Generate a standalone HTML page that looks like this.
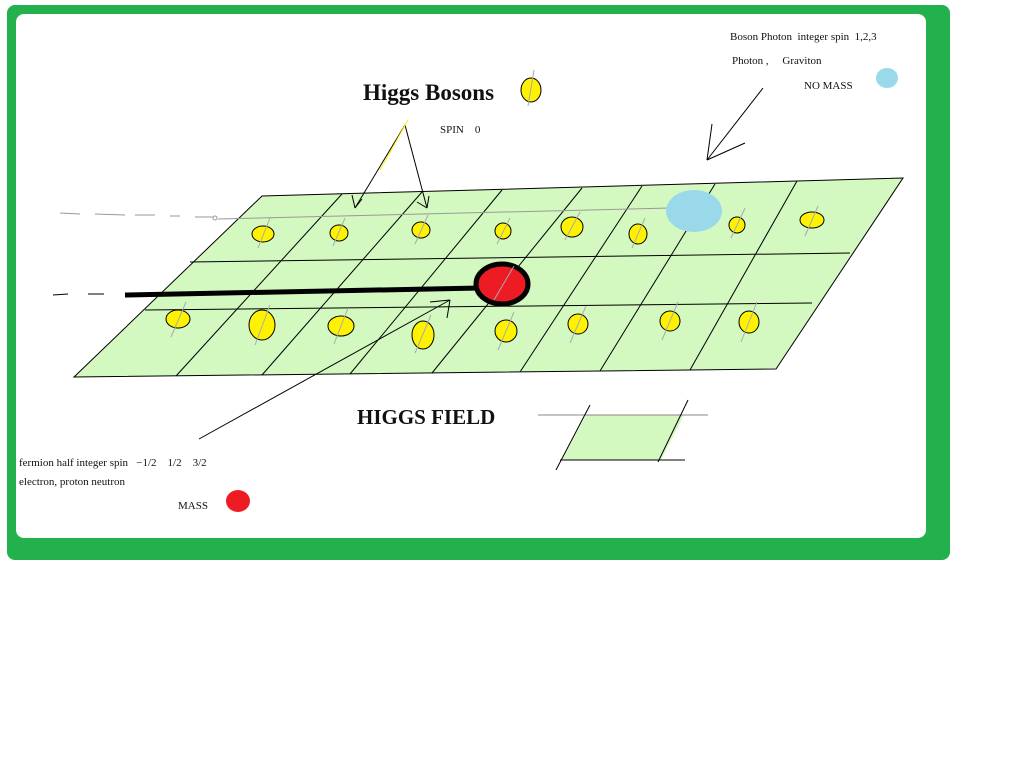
<!DOCTYPE html>
<html><head><meta charset="utf-8"><style>
html,body{margin:0;padding:0;background:#fff;width:1024px;height:768px;overflow:hidden}
svg{display:block}
text{font-family:"Liberation Serif",serif;fill:#111;white-space:pre}
</style></head><body>
<svg width="1024" height="768" viewBox="0 0 1024 768" xmlns="http://www.w3.org/2000/svg" xml:space="preserve">
<rect x="7" y="5" width="943" height="555" rx="8" fill="#22b14c"/>
<rect x="16" y="14" width="910" height="524" rx="8" fill="#fff"/>
<polygon points="262,196 903,178 776,369 74,377" fill="#d3f8c0" stroke="#000" stroke-width="1"/>
<g stroke="#000" stroke-width="1">
<line x1="190" y1="262" x2="850" y2="253"/>
<line x1="145" y1="310" x2="812" y2="303"/>
<line x1="342" y1="194" x2="176" y2="376"/>
<line x1="422" y1="192" x2="262" y2="375"/>
<line x1="502" y1="190" x2="350" y2="374"/>
<line x1="582" y1="188" x2="432" y2="373"/>
<line x1="642" y1="186" x2="520" y2="372"/>
<line x1="715" y1="184" x2="600" y2="371"/>
<line x1="797" y1="181" x2="690" y2="370"/>
</g>
<g stroke="#999" stroke-width="1">
<line x1="60" y1="213" x2="80" y2="214"/><line x1="95" y1="214" x2="125" y2="215"/><line x1="135" y1="215" x2="155" y2="215"/><line x1="170" y1="216" x2="180" y2="216"/><line x1="195" y1="217" x2="213" y2="217"/>
<line x1="218" y1="219" x2="670" y2="208"/>
</g>
<circle cx="215" cy="218" r="2" fill="none" stroke="#999"/>
<g fill="#fff200" stroke="#000" stroke-width="1">
<ellipse cx="263" cy="234" rx="11" ry="8"/><ellipse cx="339" cy="233" rx="9" ry="8"/><ellipse cx="421" cy="230" rx="9" ry="8"/><ellipse cx="503" cy="231" rx="8" ry="8"/><ellipse cx="572" cy="227" rx="11" ry="10"/><ellipse cx="638" cy="234" rx="9" ry="10"/><ellipse cx="737" cy="225" rx="8" ry="8"/><ellipse cx="812" cy="220" rx="12" ry="8"/>
<ellipse cx="178" cy="319" rx="12" ry="9"/><ellipse cx="262" cy="325" rx="13" ry="15"/><ellipse cx="341" cy="326" rx="13" ry="10"/><ellipse cx="423" cy="335" rx="11" ry="14"/><ellipse cx="506" cy="331" rx="11" ry="11"/><ellipse cx="578" cy="324" rx="10" ry="10"/><ellipse cx="670" cy="321" rx="10" ry="10"/><ellipse cx="749" cy="322" rx="10" ry="11"/>
<ellipse cx="531" cy="90" rx="10" ry="12"/>
</g>
<g stroke="#aaa" stroke-width="1">
<line x1="258" y1="248" x2="270" y2="218"/><line x1="333" y1="246" x2="345" y2="218"/><line x1="415" y1="244" x2="428" y2="215"/><line x1="497" y1="244" x2="510" y2="218"/><line x1="565" y1="240" x2="580" y2="212"/><line x1="632" y1="248" x2="645" y2="218"/><line x1="731" y1="238" x2="745" y2="208"/><line x1="805" y1="236" x2="818" y2="206"/>
<line x1="171" y1="337" x2="186" y2="302"/><line x1="255" y1="345" x2="270" y2="305"/><line x1="334" y1="344" x2="348" y2="308"/><line x1="415" y1="353" x2="431" y2="315"/><line x1="498" y1="350" x2="514" y2="312"/><line x1="570" y1="343" x2="586" y2="306"/><line x1="662" y1="340" x2="678" y2="302"/><line x1="741" y1="342" x2="757" y2="302"/>
<line x1="528" y1="106" x2="534" y2="70"/>
</g>
<ellipse cx="694" cy="211" rx="28" ry="21" fill="#99d9ea"/>
<ellipse cx="887" cy="78" rx="11" ry="10" fill="#99d9ea"/>
<g stroke="#000">
<line x1="53" y1="295" x2="68" y2="294" stroke-width="1"/><line x1="88" y1="294" x2="104" y2="294" stroke-width="1"/>
<line x1="125" y1="295" x2="480" y2="288" stroke-width="5"/>
</g>
<ellipse cx="502" cy="284" rx="26" ry="20" fill="#ed1c24" stroke="#000" stroke-width="5"/>
<line x1="514" y1="266" x2="494" y2="300" stroke="#aaa"/>
<g stroke="#000" stroke-width="1" fill="none">
<line x1="405" y1="125" x2="355" y2="208"/><line x1="355" y1="208" x2="352" y2="195"/><line x1="355" y1="208" x2="362" y2="199"/>
<line x1="405" y1="125" x2="427" y2="208"/><line x1="427" y1="208" x2="417" y2="202"/><line x1="427" y1="208" x2="429" y2="196"/>
<line x1="763" y1="88" x2="707" y2="160"/><line x1="707" y1="160" x2="712" y2="124"/><line x1="707" y1="160" x2="745" y2="143"/>
<line x1="199" y1="439" x2="450" y2="300"/><line x1="450" y1="300" x2="430" y2="302"/><line x1="450" y1="300" x2="447" y2="318"/>
</g>
<line x1="408" y1="120" x2="380" y2="170" stroke="#fff200" stroke-width="1"/>
<polygon points="586,415 684,415 661,460 562,460" fill="#d3f8c0"/>
<g stroke="#000" stroke-width="1">
<line x1="538" y1="415" x2="708" y2="415" stroke="#888"/>
<line x1="560" y1="460" x2="685" y2="460"/>
<line x1="556" y1="470" x2="590" y2="405"/>
<line x1="658" y1="462" x2="688" y2="400"/>
</g>
<text x="363" y="100" font-size="23" font-weight="bold">Higgs Bosons</text>
<text x="440" y="133" font-size="11">SPIN    0</text>
<text x="730" y="40" font-size="11">Boson Photon  integer spin  1,2,3</text>
<text x="732" y="64" font-size="11">Photon ,     Graviton</text>
<text x="804" y="89" font-size="11">NO MASS</text>
<text x="357" y="424" font-size="21" font-weight="bold">HIGGS FIELD</text>
<text x="19" y="466" font-size="11">fermion half integer spin   −1/2    1/2    3/2</text>
<text x="19" y="485" font-size="11">electron, proton neutron</text>
<text x="178" y="509" font-size="11">MASS</text>
<ellipse cx="238" cy="501" rx="12" ry="11" fill="#ed1c24"/>
</svg>
</body></html>
